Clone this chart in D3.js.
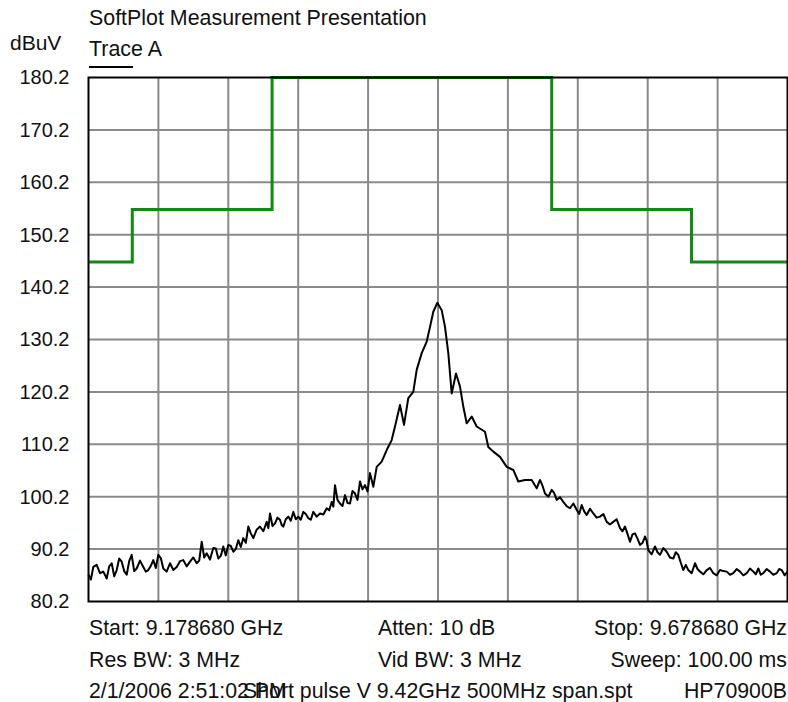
<!DOCTYPE html>
<html><head><meta charset="utf-8">
<script src="https://cdn.jsdelivr.net/npm/d3@7"></script>
<style>
html,body{margin:0;padding:0;background:#fff;}
svg text{font-family:"Liberation Sans",Arial,sans-serif;fill:#111;}
</style></head>
<body><svg id="c" width="788" height="702"></svg>
<script>
// ---- data ----
const title = "SoftPlot Measurement Presentation";
const traceName = "Trace A";
const yUnit = "dBuV";
const startMHz = 9178.68, stopMHz = 9678.68;
const yTicks = [80.2, 90.2, 100.2, 110.2, 120.2, 130.2, 140.2, 150.2, 160.2, 170.2, 180.2];
const xGridMHz = [9178.68, 9228.68, 9278.68, 9328.68, 9378.68, 9428.68, 9478.68, 9528.68, 9578.68, 9628.68, 9678.68];
const limitMHz = [9178.68, 9210, 9310, 9510, 9610, 9678.68];
const limitDbuv = [145, 155, 180.2, 155, 145, 145];
// trace A: [frequency MHz, level dBuV]
const tracePoints = [
[9178.68,85.3],[9180.40,84.4],[9182.11,86.8],[9184.51,87.2],[9186.91,85.6],[9189.30,85.9],[9191.70,84.6],[9193.49,86.9],[9195.28,87.5],[9197.06,85.0],
[9198.85,86.2],[9200.64,88.4],[9202.43,87.8],[9204.21,86.0],[9206.00,85.3],[9207.79,87.9],[9209.58,89.1],[9211.37,86.0],[9213.16,86.5],[9215.52,88.0],
[9217.88,86.8],[9219.67,85.9],[9221.46,86.2],[9223.24,87.0],[9225.03,88.1],[9226.82,86.6],[9228.61,89.1],[9230.40,88.5],[9232.18,86.5],[9234.58,85.9],
[9236.98,87.5],[9239.37,86.2],[9241.77,86.8],[9244.13,87.9],[9246.49,88.1],[9248.88,86.9],[9251.28,87.8],[9253.68,88.6],[9256.08,87.5],[9257.86,88.0],
[9259.65,91.6],[9261.44,88.6],[9263.23,89.4],[9265.59,88.2],[9267.95,90.4],[9269.74,90.3],[9271.53,88.4],[9273.31,88.9],[9275.10,90.7],[9276.89,89.0],
[9278.68,91.0],[9280.47,90.8],[9282.26,89.7],[9284.04,90.2],[9285.83,91.9],[9287.62,90.6],[9289.41,92.3],[9291.20,91.4],[9292.99,94.5],[9294.77,93.2],
[9296.56,92.3],[9298.96,93.9],[9301.35,94.5],[9303.75,93.6],[9306.15,95.4],[9307.33,94.2],[9308.51,97.0],[9310.30,94.6],[9312.08,95.1],[9313.87,96.2],
[9315.66,95.8],[9316.84,94.8],[9318.02,94.5],[9319.81,95.9],[9321.60,96.4],[9323.39,95.6],[9325.18,97.3],[9326.96,95.9],[9328.75,96.4],[9330.54,95.8],
[9332.33,97.3],[9334.12,96.9],[9335.91,96.1],[9337.70,95.8],[9339.48,97.3],[9341.88,96.4],[9344.27,97.0],[9346.67,96.8],[9349.07,98.0],[9350.86,97.6],
[9352.64,99.2],[9353.82,98.3],[9355.00,102.4],[9356.79,99.6],[9358.58,98.9],[9360.37,98.4],[9362.16,100.5],[9363.95,99.0],[9365.73,98.9],[9367.52,101.3],
[9369.31,100.8],[9371.10,99.6],[9372.89,103.1],[9374.68,101.6],[9376.46,102.4],[9378.25,101.2],[9380.04,104.7],[9382.40,102.1],[9384.83,105.9],[9388.41,106.9],
[9391.98,109.1],[9395.56,111.0],[9397.92,113.6],[9401.50,117.7],[9404.36,113.9],[9407.44,119.0],[9411.01,120.2],[9413.44,124.4],[9417.02,127.6],[9420.60,129.8],
[9422.96,132.6],[9425.32,135.5],[9428.18,137.2],[9431.33,135.8],[9433.69,132.6],[9436.05,127.6],[9438.48,119.9],[9441.56,123.7],[9444.42,121.2],[9446.78,117.4],
[9449.21,114.2],[9452.79,115.5],[9456.36,113.6],[9462.30,112.6],[9464.66,109.7],[9468.24,108.8],[9473.03,107.8],[9477.82,105.9],[9482.54,105.3],[9486.12,103.1],
[9490.91,103.4],[9495.70,103.4],[9499.28,101.8],[9501.64,103.4],[9503.43,102.3],[9505.22,100.8],[9507.62,100.2],[9510.01,101.5],[9511.80,100.9],[9513.59,99.6],
[9515.95,100.1],[9518.31,99.2],[9520.71,98.4],[9523.10,98.0],[9525.50,98.9],[9527.89,97.7],[9529.68,96.9],[9531.47,98.6],[9533.26,97.4],[9535.05,96.7],
[9537.41,97.9],[9539.77,97.0],[9542.17,96.2],[9544.56,96.4],[9546.96,96.9],[9549.35,95.4],[9551.71,94.9],[9554.07,95.4],[9556.47,95.9],[9558.87,94.2],
[9560.66,93.6],[9562.44,94.5],[9564.23,93.1],[9566.02,91.6],[9567.81,93.0],[9569.60,93.2],[9571.39,92.2],[9573.17,91.0],[9574.96,91.4],[9576.75,92.6],
[9577.93,91.8],[9579.11,90.0],[9581.51,89.2],[9583.90,90.7],[9585.69,89.6],[9587.48,89.1],[9589.88,90.4],[9592.27,89.7],[9594.63,88.6],[9596.99,88.4],
[9598.78,89.6],[9600.57,89.1],[9602.36,87.6],[9604.15,86.2],[9605.94,87.2],[9607.72,86.2],[9610.12,85.6],[9612.52,87.5],[9614.31,86.4],[9616.09,85.9],
[9618.49,85.4],[9620.88,86.2],[9623.25,86.6],[9625.61,85.6],[9628.01,85.2],[9630.40,86.2],[9632.80,86.0],[9635.19,85.9],[9637.55,85.3],[9639.91,85.6],
[9642.31,86.4],[9644.70,85.9],[9647.10,85.2],[9649.50,85.6],[9651.86,86.5],[9654.22,85.9],[9656.01,85.4],[9657.80,86.5],[9659.59,85.3],[9661.37,85.6],
[9663.77,86.4],[9666.16,85.9],[9668.56,85.3],[9670.96,85.6],[9672.75,86.4],[9674.53,86.2],[9676.61,85.2],[9678.68,85.9]
];
const footer1 = ["Start: 9.178680 GHz", "Atten: 10 dB", "Stop: 9.678680 GHz"];
const footer2 = ["Res BW: 3 MHz", "Vid BW: 3 MHz", "Sweep: 100.00 ms"];
const footer3 = ["2/1/2006 2:51:02 PM", "Short pulse V 9.42GHz 500MHz span.spt", "HP70900B"];

// ---- drawing ----
const svg = d3.select("#c");
const L = 88.5, R = 787.5, T = 77.5, B = 601.5;
const x = d3.scaleLinear().domain([startMHz, stopMHz]).range([L, R]);
const y = d3.scaleLinear().domain([80.2, 180.2]).range([B, T]);

// grid
const grid = svg.append("g");
grid.selectAll("line.v").data(xGridMHz.slice(1, -1)).join("line")
  .attr("x1", d => x(d)).attr("x2", d => x(d)).attr("y1", T).attr("y2", B)
  .attr("stroke", "#8a8a8a").attr("stroke-width", 2);
grid.selectAll("line.h").data(yTicks.slice(1, -1)).join("line")
  .attr("x1", L).attr("x2", R).attr("y1", d => y(d)).attr("y2", d => y(d))
  .attr("stroke", "#8a8a8a").attr("stroke-width", 2);

// y axis labels
const yAxis = d3.axisLeft(y).tickValues(yTicks).tickSize(0).tickPadding(0).tickFormat(d3.format(".1f"));
const ya = svg.append("g").attr("transform", `translate(${L - 19},0)`).call(yAxis);
ya.select(".domain").remove();
ya.selectAll("text").attr("font-size", 20).attr("fill", "#111").attr("font-family", "Liberation Sans, Arial, sans-serif");

// limit line
const limPts = limitMHz.map((f, i) => [f, limitDbuv[i]]);
svg.append("path").datum(limPts)
  .attr("d", d3.line().x(d => x(d[0])).y(d => y(d[1])).curve(d3.curveStepAfter))
  .attr("fill", "none").attr("stroke", "#138a13").attr("stroke-width", 3);

// trace
svg.append("path").datum(tracePoints)
  .attr("d", d3.line().x(d => x(d[0])).y(d => y(d[1])))
  .attr("fill", "none").attr("stroke", "#000").attr("stroke-width", 2).attr("stroke-linejoin", "round");

// frame
svg.append("rect").attr("x", L).attr("y", T).attr("width", R - L).attr("height", B - T)
  .attr("fill", "none").attr("stroke", "#000").attr("stroke-width", 2);

// texts
svg.append("text").attr("x", 89).attr("y", 18).attr("dy", "0.35em").attr("font-size", 21.4).text(title);
svg.append("text").attr("x", 89).attr("y", 49).attr("dy", "0.35em").attr("font-size", 21.4).text(traceName);
svg.append("line").attr("x1", 89).attr("x2", 133).attr("y1", 67).attr("y2", 67).attr("stroke", "#000").attr("stroke-width", 2);
svg.append("text").attr("x", 10).attr("y", 43).attr("dy", "0.35em").attr("font-size", 21).text(yUnit);

const rows = [[footer1, 628], [footer2, 660], [footer3, 691]];
rows.forEach(([r, yy], ri) => {
  svg.append("text").attr("x", 89).attr("y", yy).attr("dy", "0.35em").attr("font-size", 21.3).text(r[0]);
  svg.append("text").attr("x", ri === 2 ? 243 : 378).attr("y", yy).attr("dy", "0.35em").attr("font-size", 21.3).text(r[1]);
  svg.append("text").attr("x", 787).attr("y", yy).attr("dy", "0.35em").attr("font-size", 21.3).attr("text-anchor", "end").text(r[2]);
});
</script></body></html>
